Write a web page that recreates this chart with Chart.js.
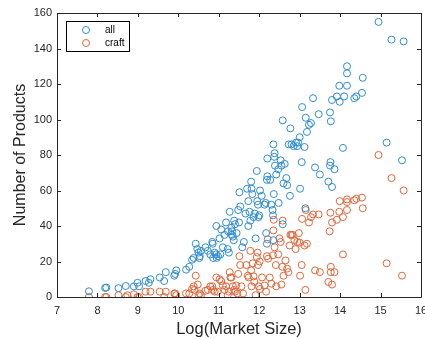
<!DOCTYPE html>
<html>
<head>
<meta charset="utf-8">
<script src="https://cdn.jsdelivr.net/npm/chart.js@4/dist/chart.umd.min.js"></script>
<style>
  html, body { margin: 0; padding: 0; background: #fff; overflow: hidden; }
  #wrap { width: 440px; height: 339px; }
</style>
</head>
<body>
<div id="wrap"><canvas id="c" width="440" height="339"></canvas></div>
<script>
// Log market size vs. number of products, all vs. craft
const allX = [7.79,8.19,8.22,8.52,8.70,8.90,8.99,9.03,9.19,9.27,9.31,9.54,9.65,9.69,9.90,9.92,9.95,
  10.19,10.27,10.34,10.38,10.43,10.47,10.50,10.53,10.56,10.52,10.67,10.73,10.79,10.84,10.85,10.86,10.90,
  10.94,10.93,10.98,10.95,11.04,11.02,11.06,11.10,11.14,11.18,11.22,11.25,11.23,11.27,11.31,11.32,11.35,
  11.38,11.37,11.33,11.40,11.44,11.48,11.50,11.51,11.53,11.58,11.62,11.66,11.70,11.73,11.73,11.76,11.78,
  11.80,11.81,11.83,11.86,11.89,11.91,11.94,11.95,11.97,11.98,12.00,12.02,12.06,12.13,12.16,12.17,12.19,
  12.20,12.20,12.19,12.27,12.30,12.33,12.34,12.35,12.36,12.37,12.38,12.39,12.35,12.42,12.47,12.48,12.53,
  12.55,12.58,12.58,12.60,12.63,12.67,12.69,12.73,12.76,12.77,12.80,12.85,12.91,12.94,12.96,13.00,13.01,
  13.05,13.06,13.12,13.14,13.15,13.18,13.23,13.28,13.33,13.38,13.47,13.50,13.71,13.75,13.76,13.75,13.77,
  13.80,13.80,13.86,13.92,13.98,13.99,14.07,14.10,14.17,14.17,14.17,14.35,14.40,14.54,14.56,14.95,15.15,
  15.27,15.53,15.57];
const allY = [3.2,5.1,5.3,5,6.2,6,8,6,9,8,10,11,9,14,12,13,15,
  15.4,17,21,22,30,27,25,23,26,22,28,26,24,31,30,22,25,
  40,24,23,22,24,33,38,28,35,42,27,25,37,48,39,35,34,
  43,32,37,41,36,49,42,59,51,28,31,47,61,54,40,48,43,
  65,61,58,45,47,33,71,54,52,45,46,60,57,52,53,36,30,
  78,68,66,66,52,49,46,86,58,79,81,74,32,69,72,53,77,
  74,99.5,41,64,75,67,63,86,57,95,86,85,87,85,87,90,61,
  76,107,84.5,50,101,93,97,98,112,73,103,69,65,104,76,74,99,
  62,111,72,113,119,110,84,113,130,126,119,112,113,115,123.5,155,87,
  145,77,144];

const craftX = [7.79,8.19,8.22,8.52,8.70,8.74,8.90,8.99,9.03,9.19,9.31,9.54,9.65,9.69,9.90,9.92,9.95,
  10.19,10.27,10.34,10.38,10.43,10.40,10.48,10.50,10.53,10.56,10.67,10.73,10.79,10.84,10.86,10.90,10.94,
  10.97,11.02,11.06,11.10,11.14,11.18,11.22,11.25,11.27,11.29,11.31,11.35,11.38,11.40,11.43,11.46,11.48,
  11.51,11.53,11.56,11.60,11.68,11.72,11.74,11.78,11.80,11.81,11.84,11.86,11.88,11.91,11.94,11.96,11.97,
  11.99,12.01,12.02,12.07,12.13,12.17,12.19,12.21,12.22,12.26,12.30,12.34,12.35,12.36,12.38,12.41,12.42,
  12.47,12.50,12.53,12.55,12.57,12.58,12.60,12.65,12.69,12.72,12.75,12.77,12.80,12.83,12.87,12.90,12.94,
  12.98,13.00,13.01,13.05,13.06,13.12,13.14,13.15,13.18,13.23,13.28,13.33,13.38,13.47,13.50,13.71,13.74,
  13.76,13.77,13.77,13.80,13.80,13.86,13.92,13.98,13.99,14.07,14.07,14.17,14.17,14.17,14.35,14.40,14.54,
  14.56,14.95,15.15,15.27,15.53,15.57];
const craftY = [0,0,0,1,0,1,1.5,0,0,3,3,3,0,3,2,2,1,
  2,2,4.5,6,12,4,7,1,2,1,3.5,4,6,6,4,3,11,
  3,10,9,6.5,4,6,1,3,14,11,11,6,4,3,6.5,2,13,
  23,18,6,2,18,12,11,26,15,6,19,11.6,8.5,1,22.5,25,18,
  6,20,4.5,11,6.5,3,23,32.5,21.6,11,7.5,23.5,37.5,43.5,28,18,6,
  24,33,31,7,17,43,12,20.6,16,14,29,35,35,35,32,27,31,
  36,30.6,12,18,44,29,4,49,30,42,45,46.5,15,46.5,14,8.5,37,
  47.5,14,17,7,42,14,43.5,48,54,45,24,55,53.5,49,54.5,55.4,56,
  50,80,19,67,12,60];

const xTicks = [7,8,9,10,11,12,13,14,15,16];
const yTicks = [0,20,40,60,80,100,120,140,160];
const seriesNames = ['all', 'craft'];
const seriesColors = ['#2F8CD0', '#E0663A'];

const toPoints = (xs, ys) => xs.map((x, i) => ({x, y: ys[i]}));

const FONT = "'Liberation Sans', Arial, Helvetica, sans-serif";
const AXIS = '#262626';

// Box outline with inward tick marks on all four sides, plus the legend
const boxPlugin = {
  id: 'box',
  afterDraw(chart) {
    const {ctx, chartArea: a, scales: {x, y}} = chart;
    const len = 4;
    ctx.save();
    ctx.strokeStyle = AXIS;
    ctx.lineWidth = 1;
    ctx.beginPath();
    ctx.rect(Math.round(a.left) + 0.5, Math.round(a.top) + 0.5,
             Math.round(a.right - a.left), Math.round(a.bottom - a.top));
    xTicks.forEach(v => {
      const px = Math.round(x.getPixelForValue(v)) + 0.5;
      ctx.moveTo(px, a.bottom); ctx.lineTo(px, a.bottom - len);
      ctx.moveTo(px, a.top); ctx.lineTo(px, a.top + len);
    });
    yTicks.forEach(v => {
      const py = Math.round(y.getPixelForValue(v)) + 0.5;
      ctx.moveTo(a.left, py); ctx.lineTo(a.left + len, py);
      ctx.moveTo(a.right, py); ctx.lineTo(a.right - len, py);
    });
    ctx.stroke();

    const lx = a.left + 9, ly = a.top + 8, lw = 63, lh = 30;
    ctx.fillStyle = '#fff';
    ctx.fillRect(lx, ly, lw, lh);
    ctx.strokeStyle = '#000';
    ctx.strokeRect(lx + 0.5, ly + 0.5, lw, lh);
    ctx.font = '10px ' + FONT;
    ctx.textBaseline = 'middle';
    ctx.textAlign = 'left';
    chart.data.datasets.forEach((ds, i) => {
      const cy = ly + 9 + i * 13;
      ctx.beginPath();
      ctx.strokeStyle = ds.borderColor;
      ctx.arc(lx + 20, cy, 3.5, 0, Math.PI * 2);
      ctx.stroke();
      ctx.fillStyle = '#000';
      ctx.fillText(ds.label, lx + 39, cy + 0.5);
    });
    ctx.restore();
  }
};

new Chart(document.getElementById('c'), {
  type: 'scatter',
  data: {
    datasets: [
      { label: seriesNames[0], data: toPoints(allX, allY), borderColor: seriesColors[0],
        backgroundColor: 'rgba(0,0,0,0)', pointRadius: 3.5, borderWidth: 1, pointHoverRadius: 3.5 },
      { label: seriesNames[1], data: toPoints(craftX, craftY), borderColor: seriesColors[1],
        backgroundColor: 'rgba(0,0,0,0)', pointRadius: 3.5, borderWidth: 1, pointHoverRadius: 3.5 }
    ]
  },
  options: {
    responsive: false,
    animation: false,
    events: [],
    layout: { padding: { left: 0, right: 19, top: 13, bottom: 0 } },
    plugins: { legend: { display: false }, tooltip: { enabled: false } },
    scales: {
      x: {
        type: 'linear', min: 7, max: 16,
        afterBuildTicks: s => { s.ticks = xTicks.map(v => ({value: v})); },
        afterFit: s => { s.height = 42; },
        grid: { display: false, drawTicks: false },
        border: { display: false },
        ticks: { color: AXIS, font: { family: FONT, size: 11 }, padding: 7, maxRotation: 0, autoSkip: false },
        title: { display: true, text: 'Log(Market Size)', color: AXIS,
                 font: { family: FONT, size: 16.5 }, padding: { top: 0, bottom: 0 } }
      },
      y: {
        type: 'linear', min: 0, max: 160,
        afterBuildTicks: s => { s.ticks = yTicks.map(v => ({value: v})); },
        afterFit: s => { s.width = 57; },
        grid: { display: false, drawTicks: false },
        border: { display: false },
        ticks: { color: AXIS, font: { family: FONT, size: 11 }, padding: 5, autoSkip: false },
        title: { display: true, text: 'Number of Products', color: AXIS,
                 font: { family: FONT, size: 16 }, padding: { top: 11, bottom: 0 } }
      }
    }
  },
  plugins: [boxPlugin]
});
</script>
</body>
</html>
